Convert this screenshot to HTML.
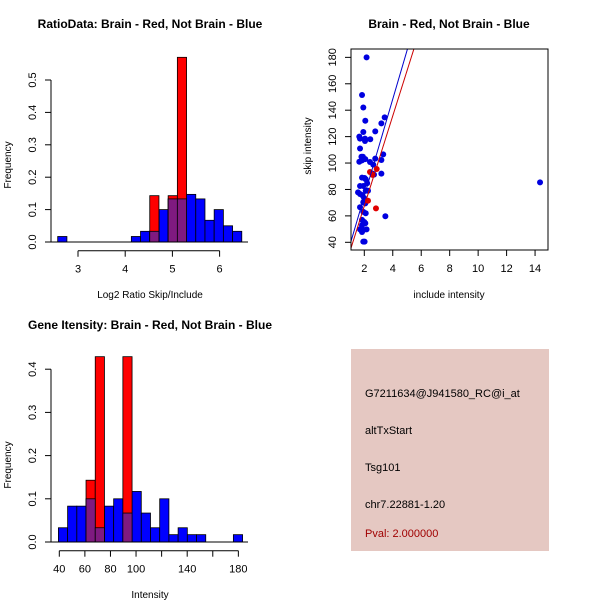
<!DOCTYPE html>
<html><head><meta charset="utf-8"><style>
body{margin:0;background:#fff}
svg{display:block;font-family:"Liberation Sans",sans-serif}
</style></head><body>
<svg id="s" width="600" height="600" viewBox="0 0 600 600">
<rect width="600" height="600" fill="#fff"/>
<g id="p1"></g>
<g id="p2"></g>
<g id="p3"></g>
<g>
<rect x="351" y="349" width="198" height="202" fill="#e5c8c2"/>
<text x="365" y="397" font-size="11" fill="#000">G7211634@J941580_RC@i_at</text>
<text x="365" y="434" font-size="11" fill="#000">altTxStart</text>
<text x="365" y="471" font-size="11" fill="#000">Tsg101</text>
<text x="365" y="508" font-size="11" fill="#000">chr7.22881-1.20</text>
<text x="365" y="537" font-size="11" fill="#a00000">Pval: 2.000000</text>
</g>
</svg>
<script>
// Plot 1 data
const h1Start=2.57, h1Width=0.195;
const h1Blue=[0.017,0,0,0,0,0,0,0,0.017,0.033,0.033,0.1,0.133,0.133,0.147,0.133,0.067,0.1,0.05,0.033];
const h1Red=[0,0,0,0,0,0,0,0,0,0,0.143,0,0.143,0.57,0,0,0,0,0,0];
const h1XTicks=[3,4,5,6];
const h1YTicks=[0,0.1,0.2,0.3,0.4,0.5];
const h1YLabels=["0.0","0.1","0.2","0.3","0.4","0.5"];
// Plot 3 data
const h3Start=39.3, h3Width=7.2;
const h3Blue=[0.033,0.083,0.083,0.1,0.033,0.083,0.1,0.067,0.117,0.067,0.033,0.1,0.017,0.033,0.017,0.017,0,0,0,0.017];
const h3Red=[0,0,0,0.143,0.429,0,0,0.429,0,0,0,0,0,0,0,0,0,0,0,0];
const h3XTicks=[40,60,80,100,120,140,160,180];
const h3XLabels=["40","60","80","100","","140","","180"];
const h3YTicks=[0,0.1,0.2,0.3,0.4];
const h3YLabels=["0.0","0.1","0.2","0.3","0.4"];
// Plot 2 data
const blueX=[2.16,1.84,1.93,2.07,1.93,1.65,1.7,2.05,2.05,2.42,1.7,1.8,1.9,2,1.65,1.84,2.07,2.77,3.2,3.43,3.33,3.2,2.77,2.4,2.63,2.58,2.68,3.2,1.84,2.02,2.1,2.2,1.7,1.93,1.56,1.7,1.84,2.1,2.26,1.98,1.93,2.07,1.7,1.93,2.1,1.84,2.0,2.07,1.84,1.7,1.93,2.16,1.84,1.93,2.02,3.48,14.35];
const blueY=[180,151.5,142,132,123.5,120,118.5,118.5,116.7,118,111,104.8,104.8,103,101,102,103,124,130,134.6,106.6,102.3,103.3,100.8,98.8,92,91.2,92,89,88.7,87.7,84.7,82.6,82.6,77.8,76.6,75.8,79,79,73.6,70.3,69.5,66.5,63,62,57,55.4,54.4,52.9,49.8,49.3,49.8,47.8,40.5,40.5,59.7,85.4];
const redX=[2.4,2.87,2.26,2.82,2.58];
const redY=[93.2,95.5,71.5,65.7,91];
const fitBlue=[1.6,36.7]; // intercept, slope
const fitRed=[-0.7,34.1];
const sXTicks=[2,4,6,8,10,12,14];
const sYTicks=[40,60,80,100,120,140,160,180];

const NS="http://www.w3.org/2000/svg";
function mk(parent,tag,attrs,name){const e=document.createElementNS(NS,tag);for(const k in attrs)e.setAttribute(k,attrs[k]);


parent.appendChild(e);return e;}
function txt(parent,x,y,s,name,opt){const t=mk(parent,'text',Object.assign({x:x,y:y,'font-size':11,'text-anchor':'middle',fill:'#000'},opt||{}),name);t.textContent=s;return t;}

function hist(g,title,xlabel,start,w,blue,red,xs,ys,xt,xl,yt,yl,ymaxPx){
  const bar=(v,i,col,name,lo)=>{const x0=xs(start+i*w),x1=xs(start+(i+1)*w);
    mk(g,'rect',{x:x0,y:ys(v),width:x1-x0,height:ys(lo||0)-ys(v),fill:col,stroke:'#000','stroke-width':0.8},name);};
  blue.forEach((v,i)=>{if(v>0)bar(v,i,'#0000ff','bar-blue');});
  red.forEach((v,i)=>{if(v>0)bar(v,i,'#ff0000','bar-red');});
  red.forEach((v,i)=>{const m=Math.min(v,blue[i]);if(m>0)bar(m,i,'#7f1a80','bar-overlap');});
  const y0=ys(0);
  mk(g,'line',{x1:50,x2:248,y1:y0,y2:y0,stroke:'#000'},'baseline');
  mk(g,'line',{x1:51,x2:51,y1:ys(yt[0]),y2:ys(yt[yt.length-1]),stroke:'#000'},'y-axis');
  yt.forEach((v,i)=>{mk(g,'line',{x1:45,x2:51,y1:ys(v),y2:ys(v),stroke:'#000'},'y-tick');
    txt(g,36,ys(v),yl[i],'y-tick-label',{transform:`rotate(-90 36 ${ys(v)})`});});
  const ay=y0+8.7;
  mk(g,'line',{x1:xs(xt[0]),x2:xs(xt[xt.length-1]),y1:ay,y2:ay,stroke:'#000'},'x-axis');
  xt.forEach((v,i)=>{mk(g,'line',{x1:xs(v),x2:xs(v),y1:ay,y2:ay+6,stroke:'#000'},'x-tick');
    if(xl[i])txt(g,xs(v),ay+22,xl[i],'x-tick-label');});
  txt(g,150,y0+56,xlabel,'x-axis-title',{'font-size':10});
  txt(g,11,y0-77,'Frequency','y-axis-title',{'font-size':10,transform:`rotate(-90 11 ${y0-77})`});
  txt(g,150,y0-ymaxPx,title,'chart-title',{'font-size':12,'font-weight':'bold'});
}
{const xs=v=>78+(v-3)*47.2, ys=v=>242-v*324;
 hist(document.getElementById('p1'),'RatioData: Brain - Red, Not Brain - Blue','Log2 Ratio Skip/Include',h1Start,h1Width,h1Blue,h1Red,xs,ys,h1XTicks,h1XTicks.map(String),h1YTicks,h1YLabels,214);}
{const xs=v=>59.3+(v-40)*1.279, ys=v=>542-v*432;
 hist(document.getElementById('p3'),'Gene Itensity: Brain - Red, Not Brain - Blue','Intensity',h3Start,h3Width,h3Blue,h3Red,xs,ys,h3XTicks,h3XLabels,h3YTicks,h3YLabels,213);}
{const g=document.getElementById('p2');
 const xs=v=>364.3+(v-2)*14.23, ys=v=>242.3-(v-40)*1.321;
 const L=351,R=548,T=49,B=250;
 const cp=mk(g,'clipPath',{id:'c2'},'plot-clip');mk(cp,'rect',{x:L,y:T,width:R-L,height:B-T},'clip-rect');
 const line=(f,col,name)=>{const xa=1.0,xb=6;mk(g,'line',{x1:xs(xa),y1:ys(f[0]+f[1]*xa),x2:xs(xb),y2:ys(f[0]+f[1]*xb),stroke:col,'stroke-width':1,'clip-path':'url(#c2)'},name);};
 blueX.forEach((x,i)=>mk(g,'circle',{cx:xs(x),cy:ys(blueY[i]),r:3,fill:'#0000e0'},'point-blue'));
 redX.forEach((x,i)=>mk(g,'circle',{cx:xs(x),cy:ys(redY[i]),r:3,fill:'#e00000'},'point-red'));
 line(fitBlue,'#0000cc','fit-line-blue');line(fitRed,'#cc0000','fit-line-red');
 mk(g,'rect',{x:L,y:T,width:R-L,height:B-T,fill:'none',stroke:'#000'},'plot-box');
 sXTicks.forEach(v=>{mk(g,'line',{x1:xs(v),x2:xs(v),y1:B,y2:B+6,stroke:'#000'},'x-tick');txt(g,xs(v),B+22,String(v),'x-tick-label');});
 sYTicks.forEach(v=>{mk(g,'line',{x1:L-6,x2:L,y1:ys(v),y2:ys(v),stroke:'#000'},'y-tick');txt(g,336,ys(v),String(v),'y-tick-label',{transform:`rotate(-90 336 ${ys(v)})`});});
 txt(g,449,298,'include intensity','x-axis-title',{'font-size':10});
 txt(g,311,146,'skip intensity','y-axis-title',{'font-size':10,transform:'rotate(-90 311 146)'});
 txt(g,449,28,'Brain - Red, Not Brain - Blue','chart-title',{'font-size':12,'font-weight':'bold'});
}
</script>
</body></html>
